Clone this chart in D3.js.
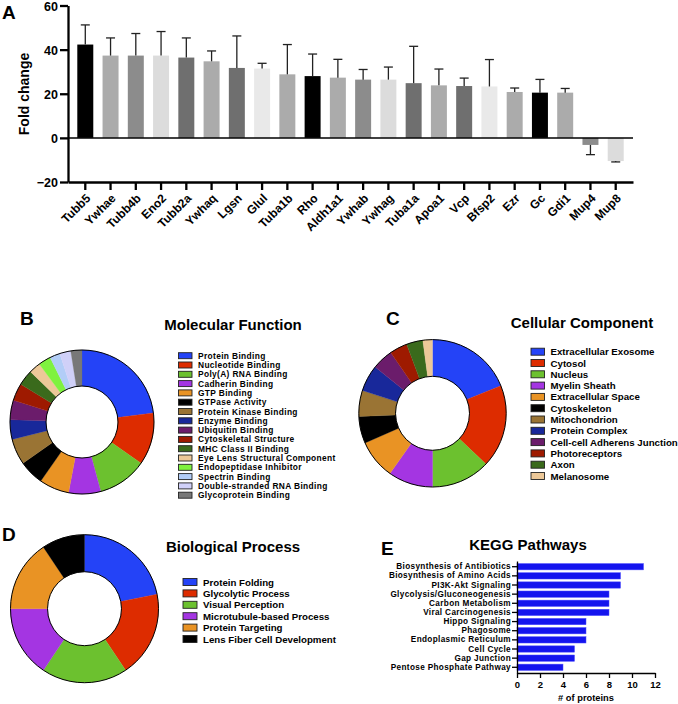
<!DOCTYPE html>
<meta charset="utf-8">
<style>
  body { margin: 0; background: #fff; }
  svg { display: block; font-family: "Liberation Sans", Arial, Helvetica, sans-serif; font-weight: bold; }
  .axis text { font-family: "Liberation Sans", Arial, Helvetica, sans-serif; font-weight: bold; fill: #000; }
  .axis path, .axis line { stroke: #000; }
</style>
<body>
<script src="https://cdn.jsdelivr.net/npm/d3@7"></script>
<script>

  // ---- data ----
  var genes = ["Tubb5", "Ywhae", "Tubb4b", "Eno2", "Tubb2a", "Ywhaq", "Lgsn", "Glul", "Tuba1b", "Rho", "Aldh1a1",
               "Ywhab", "Ywhag", "Tuba1a", "Apoa1", "Vcp", "Bfsp2", "Ezr", "Gc", "Gdi1", "Mup4", "Mup8"];
  var foldChange = [42.3, 37.3, 37.3, 37.3, 36.4, 34.7, 31.7, 31.4, 28.8, 28.0, 27.3,
                    26.4, 26.4, 24.8, 23.8, 23.5, 23.3, 20.8, 20.5, 20.5, -3.2, -10.5];
  var foldError = [8.9, 8.0, 10.0, 10.9, 8.9, 4.7, 14.5, 2.4, 13.5, 10.0, 8.3,
                   4.6, 5.7, 16.7, 7.4, 3.6, 12.2, 1.8, 6.0, 1.9, 4.4, 0.4];
  var foldTicks = [-20, 0, 20, 40, 60];

  var mfLabels = ["Protein Binding", "Nucleotide Binding", "Poly(A) RNA Binding", "Cadherin Binding", "GTP Binding",
                  "GTPase Activity", "Protein Kinase Binding", "Enzyme Binding", "Ubiquitin Binding",
                  "Cytoskeletal Structure", "MHC Class II Binding", "Eye Lens Structural Component",
                  "Endopeptidase Inhibitor", "Spectrin Binding", "Double-stranded RNA Binding", "Glycoprotein Binding"];
  var mfValues = [23, 11.7, 11.1, 7.2, 6.7, 5.6, 5.8, 4.4, 4.4, 3.9, 3.5, 2.6, 2.8, 2.3, 2.5, 2.5];

  var ccLabels = ["Extracellular Exosome", "Cytosol", "Nucleus", "Myelin Sheath", "Extracellular Space", "Cytoskeleton",
                  "Mitochondrion", "Protein Complex", "Cell-cell Adherens Junction", "Photoreceptors", "Axon", "Melanosome"];
  var ccValues = [18.9, 18.2, 12.9, 9.8, 8.6, 5.9, 5.7, 5.8, 4.6, 3.9, 3.6, 2.1];

  var bpLabels = ["Protein Folding", "Glycolytic Process", "Visual Perception", "Microtubule-based Process",
                  "Protein Targeting", "Lens Fiber Cell Development"];
  var bpValues = [7, 6, 6, 5, 5, 3];

  var keggLabels = ["Biosynthesis of Antibiotics", "Biosynthesis of Amino Acids", "PI3K-Akt Signaling",
                    "Glycolysis/Gluconeogenesis", "Carbon Metabolism", "Viral Carcinogenesis", "Hippo Signaling",
                    "Phagosome", "Endoplasmic Reticulum", "Cell Cycle", "Gap Junction", "Pentose Phosphate Pathway"];
  var keggValues = [11, 9, 9, 8, 8, 8, 6, 6, 6, 5, 5, 4];
  var keggTicks = [0, 2, 4, 6, 8, 10, 12];

  // ---- styles ----
  var grays = ["#000000", "#ababab", "#8c8c8c", "#dcdcdc", "#6f6f6f", "#ababab", "#6f6f6f", "#e9e9e9", "#ababab"];
  var pieColors = ["#2443f7", "#dd2c00", "#6cc12f", "#a435e2", "#e99324", "#000000", "#9a7434", "#18289a",
                   "#6b1c6b", "#9e1a00", "#3a6a1c", "#ecc898", "#7ff23f", "#b2cdf7", "#d0d0f8", "#787878"];
  var ccColors = ["#2443f7", "#dd2c00", "#6cc12f", "#a435e2", "#e99324", "#000000", "#9a7434", "#18289a",
                  "#6b1c6b", "#9e1a00", "#3a6a1c", "#ecc898"];

  var svg = d3.select("body").append("svg")
      .attr("width", 678)
      .attr("height", 704);

  function panelLetter(t, x, y) {
    svg.append("text").attr("x", x).attr("y", y)
        .style("font-size", "19px").text(t);
  }

  // ================= Panel A =================
  var xA = d3.scaleBand().domain(genes).range([68, 633]).paddingInner(0.367).paddingOuter(0.368);
  var yA = d3.scaleLinear().domain([-20, 60]).range([182, 5.5]);

  var gA = svg.append("g");

  gA.selectAll(".bar")
      .data(genes)
      .enter().append("rect")
      .attr("class", "bar")
      .attr("x", function(d) { return xA(d); })
      .attr("width", xA.bandwidth())
      .attr("y", function(d, i) { return yA(Math.max(foldChange[i], 0)); })
      .attr("height", function(d, i) { return Math.abs(yA(foldChange[i]) - yA(0)); })
      .attr("fill", function(d, i) { return grays[i % grays.length]; });

  // one-sided error bars
  var errG = gA.selectAll(".err")
      .data(genes)
      .enter().append("g")
      .attr("class", "err")
      .attr("stroke", "#222")
      .attr("stroke-width", 1.3);

  errG.append("line")
      .attr("x1", function(d) { return xA(d) + xA.bandwidth() / 2; })
      .attr("x2", function(d) { return xA(d) + xA.bandwidth() / 2; })
      .attr("y1", function(d, i) { return yA(foldChange[i]); })
      .attr("y2", function(d, i) { return yA(foldChange[i] + Math.sign(foldChange[i]) * foldError[i]); });

  errG.append("line")
      .attr("x1", function(d) { return xA(d) + xA.bandwidth() / 2 - 4.5; })
      .attr("x2", function(d) { return xA(d) + xA.bandwidth() / 2 + 4.5; })
      .attr("y1", function(d, i) { return yA(foldChange[i] + Math.sign(foldChange[i]) * foldError[i]); })
      .attr("y2", function(d, i) { return yA(foldChange[i] + Math.sign(foldChange[i]) * foldError[i]); });

  // zero line
  gA.append("line")
      .attr("x1", 68).attr("x2", 633)
      .attr("y1", yA(0)).attr("y2", yA(0))
      .attr("stroke", "#000").attr("stroke-width", 1.5);

  var yAxisA = gA.append("g")
      .attr("class", "axis")
      .attr("transform", "translate(68,0)")
      .call(d3.axisLeft(yA).tickValues(foldTicks).tickSize(8).tickSizeOuter(0).tickPadding(2));
  yAxisA.selectAll("path, line").attr("stroke-width", 2.3);
  yAxisA.selectAll("text").style("font-size", "12.5px").attr("dy", "0.36em");

  var xAxisA = gA.append("g")
      .attr("class", "axis")
      .attr("transform", "translate(0,182)")
      .call(d3.axisBottom(xA).tickSize(8).tickSizeOuter(0));
  xAxisA.selectAll("path, line").attr("stroke-width", 2.3);
  xAxisA.selectAll("text")
      .attr("x", 0).attr("y", 0).attr("dy", "0.35em")
      .attr("text-anchor", "end")
      .attr("transform", "translate(3,14) rotate(-45)")
      .style("font-size", "12px");

  gA.append("text")
      .attr("transform", "translate(29,94) rotate(-90)")
      .attr("text-anchor", "middle")
      .style("font-size", "14px")
      .text("Fold change");

  panelLetter("A", 2, 19);

  // ================= Donuts =================
  function drawDonut(cx, cy, R, r, values, colors) {
    var pie = d3.pie().sort(null)(values);
    var arc = d3.arc().innerRadius(r).outerRadius(R);
    var g = svg.append("g").attr("transform", "translate(" + cx + "," + cy + ")");
    g.selectAll("path")
        .data(pie)
        .enter().append("path")
        .attr("d", arc)
        .attr("fill", function(d, i) { return colors[i]; })
        .attr("stroke", function(d, i) { return colors[i]; })
        .attr("stroke-width", 0.3);
    g.append("circle").attr("r", R).attr("fill", "none").attr("stroke", "#000").attr("stroke-width", 1);
    g.append("circle").attr("r", r).attr("fill", "none").attr("stroke", "#000").attr("stroke-width", 1);
  }

  function drawLegend(x, y0, step, sw, sh, labels, colors, fs, ls) {
    var g = svg.append("g");
    var row = g.selectAll(".row")
        .data(labels)
        .enter().append("g")
        .attr("transform", function(d, i) { return "translate(" + x + "," + (y0 + i * step) + ")"; });
    row.append("rect")
        .attr("x", 0).attr("y", -sh / 2)
        .attr("width", sw).attr("height", sh)
        .attr("fill", function(d, i) { return colors[i]; })
        .attr("stroke", "#222").attr("stroke-width", 0.9);
    row.append("text")
        .attr("x", sw + 6).attr("dy", "0.36em")
        .style("font-size", fs + "px")
        .style("letter-spacing", (ls || 0) + "px")
        .text(function(d) { return d; });
  }

  function title(t, x, y) {
    svg.append("text").attr("x", x).attr("y", y)
        .attr("text-anchor", "middle")
        .style("font-size", "15px").text(t);
  }

  // Panel B
  panelLetter("B", 20, 325);
  title("Molecular Function", 233, 330);
  drawDonut(82, 422, 72, 36, mfValues, pieColors);
  drawLegend(178.5, 355.7, 9.3, 13.5, 6, mfLabels, pieColors, 8.4, 0.35);

  // Panel C
  panelLetter("C", 386, 325);
  title("Cellular Component", 582, 328);
  drawDonut(432.5, 413.3, 73.7, 37, ccValues, ccColors);
  drawLegend(531, 351.7, 11.3, 13.5, 7, ccLabels, ccColors, 9.7, 0);

  // Panel D
  panelLetter("D", 2, 541);
  title("Biological Process", 233, 552);
  drawDonut(84.5, 608.7, 74, 37, bpValues, pieColors);
  drawLegend(183, 582, 11.4, 14, 7, bpLabels, pieColors, 9.7, 0);

  // ================= Panel E =================
  panelLetter("E", 381, 555);
  title("KEGG Pathways", 528, 550);

  var xE = d3.scaleLinear().domain([0, 12]).range([517, 655]);
  var yE = d3.scaleBand().domain(keggLabels).range([561, 673]).paddingInner(0.31).paddingOuter(0.28);

  svg.append("g").selectAll("rect")
      .data(keggLabels)
      .enter().append("rect")
      .attr("x", xE(0))
      .attr("y", function(d) { return yE(d); })
      .attr("width", function(d, i) { return xE(keggValues[i]) - xE(0); })
      .attr("height", yE.bandwidth())
      .attr("fill", "#1414ee")
      .attr("stroke", "#4d4dff")
      .attr("stroke-width", 0.5);

  var yAxisE = svg.append("g")
      .attr("class", "axis")
      .attr("transform", "translate(517,0)")
      .call(d3.axisLeft(yE).tickSize(5).tickSizeOuter(0).tickPadding(1));
  yAxisE.selectAll("path, line").attr("stroke-width", 1.3);
  yAxisE.selectAll("text").style("font-size", "8.2px").style("letter-spacing", "0.35px");

  var xAxisE = svg.append("g")
      .attr("class", "axis")
      .attr("transform", "translate(0,673)")
      .call(d3.axisBottom(xE).tickValues(keggTicks).tickSize(5).tickSizeOuter(0).tickPadding(3));
  xAxisE.selectAll("path, line").attr("stroke-width", 1.3);
  xAxisE.selectAll("text").style("font-size", "9.5px");

  svg.append("text")
      .attr("x", 586).attr("y", 701)
      .attr("text-anchor", "middle")
      .style("font-size", "9.3px")
      .text("# of proteins");

</script>
